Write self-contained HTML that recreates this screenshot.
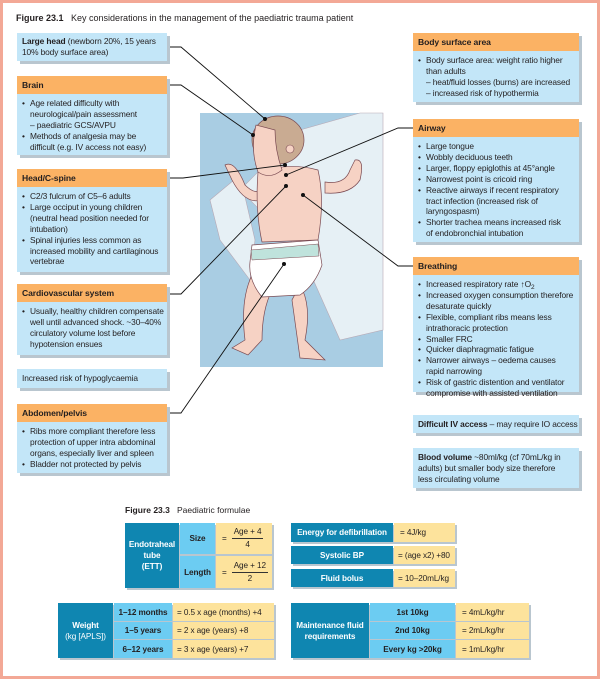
<!DOCTYPE html>
<html><head><meta charset="utf-8"><style>
*{margin:0;padding:0;box-sizing:border-box}
body{width:600px;height:679px;position:relative;background:#fff;font-family:"Liberation Sans",sans-serif;color:#231f20;overflow:hidden}
.frame{position:absolute;left:0;top:0;width:600px;height:679px;border:3px solid #f3a896}
.a{position:absolute}
.h{position:absolute;background:#fbb264;font-weight:bold;font-size:8.6px;padding:4px 5px 0;box-shadow:3px 3px 0 #b9c6cf;letter-spacing:-0.1px}
.b{position:absolute;background:#c3e6f8;font-size:8.4px;line-height:10.9px;padding:4px 4px 4px 5px;box-shadow:3px 3px 0 #b9c6cf;letter-spacing:-0.12px;white-space:nowrap}
.b ul{list-style:none}
.b li{padding-left:8px;position:relative}
.b li:before{content:"•";position:absolute;left:0}
.t{position:absolute;font-size:8.2px;display:flex;align-items:center;justify-content:center;text-align:center;line-height:11px;white-space:nowrap;letter-spacing:-0.1px}
.d{background:#0f86b1;color:#fff;font-weight:bold}
.l{background:#6cccf2;font-weight:bold}
.y{background:#fde39c;justify-content:flex-start;padding-left:6px}
.sh{position:absolute;background:#b9c6cf}
.fr{display:inline-block;text-align:center;margin-left:5px;line-height:12px}
.fr span{border-bottom:1px solid #333;display:block;padding:0 2px}
</style></head><body>
<div class="a" style="left:16px;top:13px;font-size:9px"><b>Figure 23.1</b>&nbsp;&nbsp; Key considerations in the management of the paediatric trauma patient</div>

<svg class="a" style="left:0;top:0" width="600" height="679">
<rect x="200" y="113" width="183" height="254" fill="#a9cde3"/>
<path d="M240 190 L300 130 L360 113 L383 113 L383 330 L340 340 L300 250 Z" fill="#e6f0f5" stroke="#b7a9b5" stroke-width="0.6"/>
<path d="M210 200 L240 175 L255 240 L250 280 L220 240 Z" fill="#e6f0f5" stroke="#b7a9b5" stroke-width="0.6"/>
<path d="M225 165 Q235 160 245 185 Q255 195 262 190 L262 200 Q245 205 232 180 Z" fill="#f6d2c4" stroke="#7a4a52" stroke-width="0.7"/>
<path d="M355 160 Q365 158 360 180 Q350 195 325 193 L325 182 Q345 185 350 170 Z" fill="#f6d2c4" stroke="#7a4a52" stroke-width="0.7"/>
<path d="M258 172 Q290 162 318 170 Q325 200 318 240 L262 242 Q255 210 258 172 Z" fill="#f6d2c4" stroke="#7a4a52" stroke-width="0.7"/>
<path d="M252 275 Q240 300 245 340 L232 348 L248 355 L262 340 Q262 310 272 290 Z" fill="#f6d2c4" stroke="#7a4a52" stroke-width="0.7"/>
<path d="M300 285 Q312 305 305 340 L325 360 L300 358 L292 300 Z" fill="#f6d2c4" stroke="#7a4a52" stroke-width="0.7"/>
<path d="M252 245 L318 240 L322 265 Q315 285 300 295 L262 297 Q248 280 250 262 Z" fill="#fff" stroke="#7a4a52" stroke-width="0.7"/>
<path d="M251 250 L318 244 L319 256 L252 260 Z" fill="#bfe3dc" stroke="#7a4a52" stroke-width="0.5"/>
<ellipse cx="278" cy="140" rx="26" ry="24" fill="#c9ab92" stroke="#7a4a52" stroke-width="0.7"/>
<path d="M256 125 Q250 150 258 172 Q270 180 282 170 Q275 150 275 130 Z" fill="#f6d2c4" stroke="#7a4a52" stroke-width="0.7"/>
<circle cx="290" cy="149" r="4" fill="#f6d2c4" stroke="#7a4a52" stroke-width="0.6"/>
<g stroke="#111" stroke-width="0.9" fill="none">
<polyline points="167,47 181,47 265,119"/>
<polyline points="167,85 181,85 253,135"/>
<polyline points="167,178 183,178 285,165"/>
<polyline points="167,294 181,294 286,186"/>
<polyline points="167,413 181,413 284,264"/>
<polyline points="413,128 398,128 286,175"/>
<polyline points="413,266 398,266 303,195"/>
</g>
<g fill="#111"><circle cx="265" cy="119" r="2"/><circle cx="253" cy="135" r="2"/><circle cx="285" cy="165" r="2"/><circle cx="286" cy="175" r="2"/><circle cx="286" cy="186" r="2"/><circle cx="303" cy="195" r="2"/><circle cx="284" cy="264" r="2"/></g>
</svg>

<div class="b" style="left:17px;top:33px;width:150px;height:28px;padding-top:3px"><b>Large head</b> (newborn 20%, 15 years<br>10% body surface area)</div>
<div class="h" style="left:17px;top:76px;width:150px;height:18px">Brain</div>
<div class="b" style="left:17px;top:94px;width:150px;height:61px"><ul><li>Age related difficulty with<br>neurological/pain assessment<br>– paediatric GCS/AVPU</li><li>Methods of analgesia may be<br>difficult (e.g. IV access not easy)</li></ul></div>
<div class="h" style="left:17px;top:169px;width:150px;height:18px">Head/C-spine</div>
<div class="b" style="left:17px;top:187px;width:150px;height:85px"><ul><li>C2/3 fulcrum of C5–6 adults</li><li>Large occiput in young children<br>(neutral head position needed for<br>intubation)</li><li>Spinal injuries less common as<br>increased mobility and cartilaginous<br>vertebrae</li></ul></div>
<div class="h" style="left:17px;top:284px;width:150px;height:18px">Cardiovascular system</div>
<div class="b" style="left:17px;top:302px;width:150px;height:53px"><ul><li>Usually, healthy children compensate<br>well until advanced shock. ~30–40%<br>circulatory volume lost before<br>hypotension ensues</li></ul></div>
<div class="b" style="left:17px;top:369px;width:150px;height:19px;padding-top:4px">Increased risk of hypoglycaemia</div>
<div class="h" style="left:17px;top:404px;width:150px;height:18px">Abdomen/pelvis</div>
<div class="b" style="left:17px;top:422px;width:150px;height:51px"><ul><li>Ribs more compliant therefore less<br>protection of upper intra abdominal<br>organs, especially liver and spleen</li><li>Bladder not protected by pelvis</li></ul></div>

<div class="h" style="left:413px;top:33px;width:166px;height:18px">Body surface area</div>
<div class="b" style="left:413px;top:51px;width:166px;height:51px"><ul><li>Body surface area: weight ratio higher<br>than adults<br>– heat/fluid losses (burns) are increased<br>– increased risk of hypothermia</li></ul></div>
<div class="h" style="left:413px;top:119px;width:166px;height:18px">Airway</div>
<div class="b" style="left:413px;top:137px;width:166px;height:105px"><ul><li>Large tongue</li><li>Wobbly deciduous teeth</li><li>Larger, floppy epiglothis at 45°angle</li><li>Narrowest point is cricoid ring</li><li>Reactive airways if recent respiratory<br>tract infection (increased risk of<br>laryngospasm)</li><li>Shorter trachea means increased risk<br>of endobronchial intubation</li></ul></div>
<div class="h" style="left:413px;top:257px;width:166px;height:18px">Breathing</div>
<div class="b" style="left:413px;top:275px;width:166px;height:117px"><ul><li>Increased respiratory rate ↑O<span style="font-size:6.5px;position:relative;top:2px;line-height:0">2</span></li><li>Increased oxygen consumption therefore<br>desaturate quickly</li><li>Flexible, compliant ribs means less<br>intrathoracic protection</li><li>Smaller FRC</li><li>Quicker diaphragmatic fatigue</li><li>Narrower airways – oedema causes<br>rapid narrowing</li><li>Risk of gastric distention and ventilator<br>compromise with assisted ventilation</li></ul></div>
<div class="b" style="left:413px;top:415px;width:166px;height:18px;padding-top:4px"><b>Difficult IV access</b> – may require IO access</div>
<div class="b" style="left:413px;top:448px;width:166px;height:40px"><b>Blood volume</b> ~80ml/kg (cf 70mL/kg in<br>adults) but smaller body size therefore<br>less circulating volume</div>

<div class="a" style="left:125px;top:505px;font-size:8.5px"><b>Figure 23.3</b>&nbsp;&nbsp; Paediatric formulae</div>

<div class="sh" style="left:127px;top:525px;width:147px;height:65px"></div>
<div class="t d" style="left:125px;top:523px;width:54px;height:65px"><div>Endotraheal<br>tube<br>(ETT)</div></div>
<div class="t l" style="left:180px;top:523px;width:35px;height:31px">Size</div>
<div class="t l" style="left:180px;top:556px;width:35px;height:32px">Length</div>
<div class="t y" style="left:216px;top:523px;width:56px;height:31px">=<div class="fr"><span>Age + 4</span>4</div></div>
<div class="t y" style="left:216px;top:556px;width:56px;height:32px">=<div class="fr"><span>Age + 12</span>2</div></div>

<div class="sh" style="left:293px;top:525px;width:164px;height:19px"></div>
<div class="t d" style="left:291px;top:523px;width:102px;height:19px">Energy for defibrillation</div>
<div class="t y" style="left:394px;top:523px;width:61px;height:19px">= 4J/kg</div>
<div class="sh" style="left:293px;top:548px;width:164px;height:18px"></div>
<div class="t d" style="left:291px;top:546px;width:102px;height:18px">Systolic BP</div>
<div class="t y" style="left:394px;top:546px;width:61px;height:18px;padding-left:4px">= (age x2) +80</div>
<div class="sh" style="left:293px;top:571px;width:164px;height:18px"></div>
<div class="t d" style="left:291px;top:569px;width:102px;height:18px">Fluid bolus</div>
<div class="t y" style="left:394px;top:569px;width:61px;height:18px;padding-left:4px">= 10–20mL/kg</div>

<div class="sh" style="left:60px;top:605px;width:216px;height:55px"></div>
<div class="t d" style="left:58px;top:603px;width:55px;height:55px"><div>Weight<br><span style="font-weight:normal">(kg [APLS])</span></div></div>
<div class="t l" style="left:114px;top:603px;width:58px;height:18px">1–12 months</div>
<div class="t l" style="left:114px;top:622px;width:58px;height:17px">1–5 years</div>
<div class="t l" style="left:114px;top:640px;width:58px;height:18px">6–12 years</div>
<div class="t y" style="left:173px;top:603px;width:101px;height:18px;padding-left:4px">= 0.5 x age (months) +4</div>
<div class="t y" style="left:173px;top:622px;width:101px;height:17px;padding-left:4px">= 2 x age (years) +8</div>
<div class="t y" style="left:173px;top:640px;width:101px;height:18px;padding-left:4px">= 3 x age (years) +7</div>

<div class="sh" style="left:293px;top:605px;width:238px;height:55px"></div>
<div class="t d" style="left:291px;top:603px;width:78px;height:55px"><div>Maintenance fluid<br>requirements</div></div>
<div class="t l" style="left:370px;top:603px;width:85px;height:18px">1st 10kg</div>
<div class="t l" style="left:370px;top:622px;width:85px;height:17px">2nd 10kg</div>
<div class="t l" style="left:370px;top:640px;width:85px;height:18px">Every kg &gt;20kg</div>
<div class="t y" style="left:456px;top:603px;width:73px;height:18px">= 4mL/kg/hr</div>
<div class="t y" style="left:456px;top:622px;width:73px;height:17px">= 2mL/kg/hr</div>
<div class="t y" style="left:456px;top:640px;width:73px;height:18px">= 1mL/kg/hr</div>

<div class="frame"></div>
</body></html>
